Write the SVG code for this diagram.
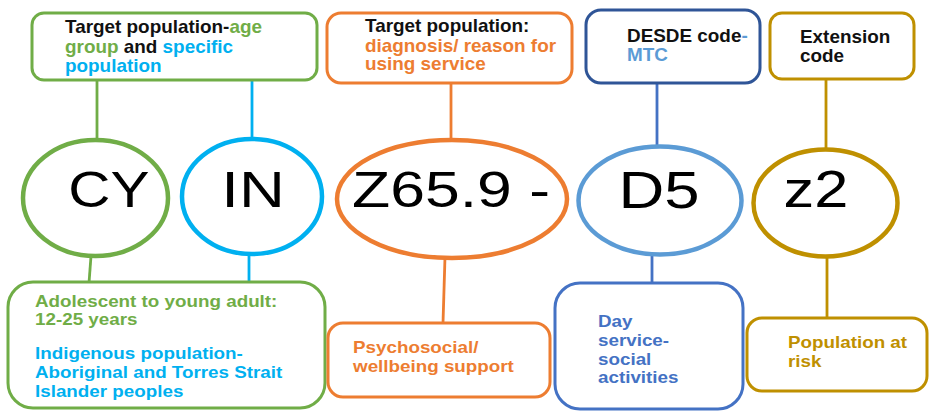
<svg xmlns="http://www.w3.org/2000/svg" width="929" height="411" viewBox="0 0 929 411">
  <style>
    .box { fill: #fff; stroke-width: 3; }
    .ring { fill: #fff; stroke-width: 4.5; }
    .link { fill: none; stroke-width: 2.8; }
    .hd { font-family: "Liberation Sans", Arial, sans-serif; font-weight: bold; font-size: 17.5px; }
    .bd { font-family: "Liberation Sans", Arial, sans-serif; font-weight: bold; font-size: 16.5px; }
    .code { font-family: "Liberation Sans", Arial, sans-serif; font-size: 50px; fill: #000; text-anchor: middle; }
    .code2 { font-family: "Liberation Sans", Arial, sans-serif; font-size: 52px; fill: #000; text-anchor: middle; }
    .k { fill: #111; }
    .g { fill: #70AD47; }
    .c { fill: #00B0F0; }
    .o { fill: #ED7D31; }
    .sb { fill: #5B9BD5; }
    .db { fill: #4472C4; }
    .y { fill: #BF9000; }
  </style>

  <!-- connectors -->
  <g id="connectors">
    <line class="link" x1="97" y1="80" x2="97" y2="141" stroke="#70AD47"/>
    <line class="link" x1="252" y1="80" x2="252" y2="140" stroke="#00B0F0"/>
    <line class="link" x1="451" y1="83" x2="451" y2="141" stroke="#ED7D31"/>
    <line class="link" x1="657" y1="83" x2="657" y2="146" stroke="#4472C4"/>
    <line class="link" x1="826" y1="79" x2="826" y2="149" stroke="#BF9000"/>
    <line class="link" x1="91" y1="256" x2="89" y2="283" stroke="#70AD47"/>
    <line class="link" x1="249" y1="254" x2="249" y2="283" stroke="#00B0F0"/>
    <line class="link" x1="445" y1="257" x2="443" y2="323" stroke="#ED7D31"/>
    <line class="link" x1="652" y1="254" x2="652" y2="284" stroke="#4472C4"/>
    <line class="link" x1="827" y1="256" x2="827" y2="318" stroke="#BF9000"/>
  </g>

  <!-- top labels -->
  <g id="label-population">
    <rect class="box" x="32" y="13" width="285" height="67" rx="12" stroke="#70AD47"/>
    <g class="hd" transform="translate(65 0) scale(1.08 1)">
      <text x="0" y="33"><tspan class="k">Target population-</tspan><tspan class="g">age</tspan></text>
      <text x="0" y="53"><tspan class="g">group</tspan><tspan class="k"> and </tspan><tspan class="c">specific</tspan></text>
      <text x="0" y="72" class="c">population</text>
    </g>
  </g>

  <g id="label-diagnosis">
    <rect class="box" x="327" y="13" width="245" height="70" rx="14" stroke="#ED7D31"/>
    <g class="hd" transform="translate(365 0) scale(1.08 1)">
      <text x="0" y="32" class="k">Target population:</text>
      <text x="0" y="52" class="o">diagnosis/ reason for</text>
      <text x="0" y="70" class="o">using service</text>
    </g>
  </g>

  <g id="label-desde">
    <rect class="box" x="586" y="10" width="174" height="73" rx="15" stroke="#2F5597"/>
    <g class="hd" transform="translate(627 0) scale(1.08 1)">
      <text x="0" y="42"><tspan class="k">DESDE code</tspan><tspan class="sb">-</tspan></text>
      <text x="0" y="61" class="sb">MTC</text>
    </g>
  </g>

  <g id="label-extension">
    <rect class="box" x="770" y="13" width="144" height="66" rx="12" stroke="#BF9000"/>
    <g class="hd" transform="translate(800 0) scale(1.08 1)">
      <text x="0" y="43" class="k">Extension</text>
      <text x="0" y="62" class="k">code</text>
    </g>
  </g>

  <!-- code circles -->
  <g id="code-cy">
    <ellipse class="ring" cx="95.5" cy="198" rx="72.5" ry="58" stroke="#70AD47"/>
    <g transform="translate(109 0) scale(1.17 1)"><text class="code" x="0" y="207">CY</text></g>
  </g>
  <g id="code-in">
    <ellipse class="ring" cx="252" cy="196.5" rx="70" ry="57.5" stroke="#00B0F0"/>
    <g transform="translate(253 0) scale(1.27 1)"><text class="code" x="0" y="207">IN</text></g>
  </g>
  <g id="code-z659">
    <ellipse class="ring" cx="452" cy="199" rx="115" ry="59" stroke="#ED7D31"/>
    <g transform="translate(451 0) scale(1.25 1)"><text class="code" x="0" y="207">Z65.9 -</text></g>
  </g>
  <g id="code-d5">
    <ellipse class="ring" cx="660" cy="200.5" rx="81.5" ry="54" stroke="#5B9BD5"/>
    <g transform="translate(659 0) scale(1.22 1)"><text class="code2" x="0" y="208">D5</text></g>
  </g>
  <g id="code-z2">
    <ellipse class="ring" cx="825.5" cy="203" rx="72" ry="53.5" stroke="#BF9000"/>
    <g transform="translate(816 0) scale(1.18 1)"><text class="code2" x="0" y="207">z2</text></g>
  </g>

  <!-- bottom descriptions -->
  <g id="desc-population">
    <rect class="box" x="8" y="282" width="317" height="126" rx="25" stroke="#70AD47"/>
    <g class="bd" transform="translate(35 0) scale(1.14 1)">
      <text x="0" y="307" class="g">Adolescent to young adult:</text>
      <text x="0" y="325" class="g">12-25 years</text>
      <text x="0" y="359" class="c">Indigenous population-</text>
      <text x="0" y="378" class="c">Aboriginal and Torres Strait</text>
      <text x="0" y="397" class="c">Islander peoples</text>
    </g>
  </g>

  <g id="desc-diagnosis">
    <rect class="box" x="328" y="323" width="222" height="74" rx="15" stroke="#ED7D31"/>
    <g class="bd" transform="translate(353 0) scale(1.14 1)">
      <text x="0" y="353" class="o">Psychosocial/</text>
      <text x="0" y="372" class="o">wellbeing support</text>
    </g>
  </g>

  <g id="desc-desde">
    <rect class="box" x="555" y="283" width="188" height="126" rx="25" stroke="#4472C4"/>
    <g class="bd" transform="translate(598 0) scale(1.14 1)">
      <text x="0" y="327" class="db">Day</text>
      <text x="0" y="346" class="db">service-</text>
      <text x="0" y="365" class="db">social</text>
      <text x="0" y="383" class="db">activities</text>
    </g>
  </g>

  <g id="desc-extension">
    <rect class="box" x="747" y="318" width="180" height="73" rx="15" stroke="#BF9000"/>
    <g class="bd" transform="translate(788 0) scale(1.14 1)">
      <text x="0" y="348" class="y">Population at</text>
      <text x="0" y="367" class="y">risk</text>
    </g>
  </g>
</svg>
